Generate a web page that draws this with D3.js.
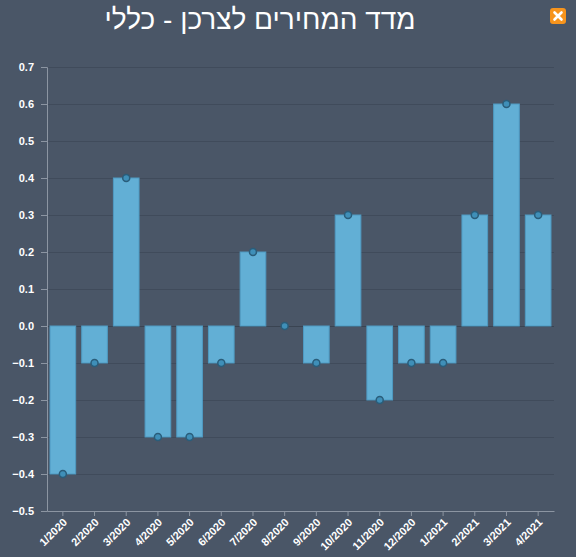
<!DOCTYPE html>
<html><head><meta charset="utf-8">
<script src="https://cdn.jsdelivr.net/npm/d3@7"></script>
<style>
html,body{margin:0;padding:0;background:#4a5667;}
svg{display:block;}
</style></head><body>
<svg id="c" width="576" height="557"></svg>
<script>
const title = "מדד המחירים לצרכן - כללי";
const categories = ["1/2020","2/2020","3/2020","4/2020","5/2020","6/2020","7/2020","8/2020","9/2020","10/2020","11/2020","12/2020","1/2021","2/2021","3/2021","4/2021"];
const values = [-0.4,-0.1,0.4,-0.3,-0.3,-0.1,0.2,0.0,-0.1,0.3,-0.2,-0.1,-0.1,0.3,0.6,0.3];
const yTicks = [0.7,0.6,0.5,0.4,0.3,0.2,0.1,0.0,-0.1,-0.2,-0.3,-0.4,-0.5];

(function(){
const svg = d3.select("#c");
const W = 576, H = 557;
svg.append("rect").attr("width",W).attr("height",H).attr("fill","#4a5667");

const mL = 47, mR = 554, mT = 67, mB = 511;
const x = d3.scaleBand().domain(categories).range([mL,mR]).paddingInner(0.19).paddingOuter(0.095);
const y = d3.scaleLinear().domain([-0.5,0.7]).range([mB,mT]);

// grid
svg.append("g").selectAll("line").data(yTicks).join("line")
  .attr("x1",mL).attr("x2",mR)
  .attr("y1",d=>y(d)).attr("y2",d=>y(d))
  .attr("stroke",d=>d===0?"#3a4452":"#404b5b").attr("stroke-width",1)
  .attr("shape-rendering","crispEdges");

// bars
svg.append("g").selectAll("rect").data(values).join("rect")
  .attr("x",(d,i)=>x(categories[i]))
  .attr("width",x.bandwidth())
  .attr("y",d=>y(Math.max(0,d)))
  .attr("height",d=>Math.abs(y(d)-y(0)))
  .attr("fill","#62afd5").attr("stroke","#4f9ac2").attr("stroke-width",1);

// y axis
const ya = d3.axisLeft(y).tickValues(yTicks).tickFormat(d3.format(".1f")).tickSize(6).tickPadding(7);
const gy = svg.append("g").attr("transform",`translate(${mL},0)`).call(ya);
gy.select(".domain").attr("stroke","#8c95a2");
gy.selectAll(".tick line").attr("stroke","#8c95a2");
gy.selectAll(".tick text").attr("fill","#ffffff").attr("font-family","Liberation Sans, Arial, sans-serif")
  .attr("font-size","11px").attr("font-weight","bold");

// x axis
const xa = d3.axisBottom(x).tickSize(5).tickSizeOuter(0);
const gx = svg.append("g").attr("transform",`translate(0,${mB})`).call(xa);
gx.select(".domain").attr("stroke","#8c95a2");
gx.selectAll(".tick line").attr("stroke","#8c95a2");
gx.selectAll(".tick text").attr("fill","#ffffff").attr("font-family","Liberation Sans, Arial, sans-serif")
  .attr("font-size","11px").attr("font-weight","bold")
  .attr("text-anchor","end").attr("dy",null).attr("y",0)
  .attr("transform","translate(5,12) rotate(-45)");

// markers
svg.append("g").selectAll("circle").data(values).join("circle")
  .attr("cx",(d,i)=>x(categories[i])+x.bandwidth()/2)
  .attr("cy",d=>y(d))
  .attr("r",3.5)
  .attr("fill","#3f8fb8").attr("stroke","#2a5d7a").attr("stroke-width",1.5);

// title
svg.append("text").attr("x",260).attr("y",29).attr("text-anchor","middle")
  .attr("fill","#ffffff").attr("font-family","Liberation Sans, Arial, sans-serif")
  .attr("font-size","28px").attr("direction","rtl").text(title);

// close button
const cb = svg.append("g").attr("transform","translate(550,8)");
cb.append("rect").attr("width",16).attr("height",16).attr("rx",3).attr("fill","#f7941d");
cb.append("path").attr("d","M4.5,4.5 L11.5,11.5 M11.5,4.5 L4.5,11.5").attr("stroke","#ffffff").attr("stroke-width",2.6).attr("stroke-linecap","round");
})();
</script>
</body></html>
